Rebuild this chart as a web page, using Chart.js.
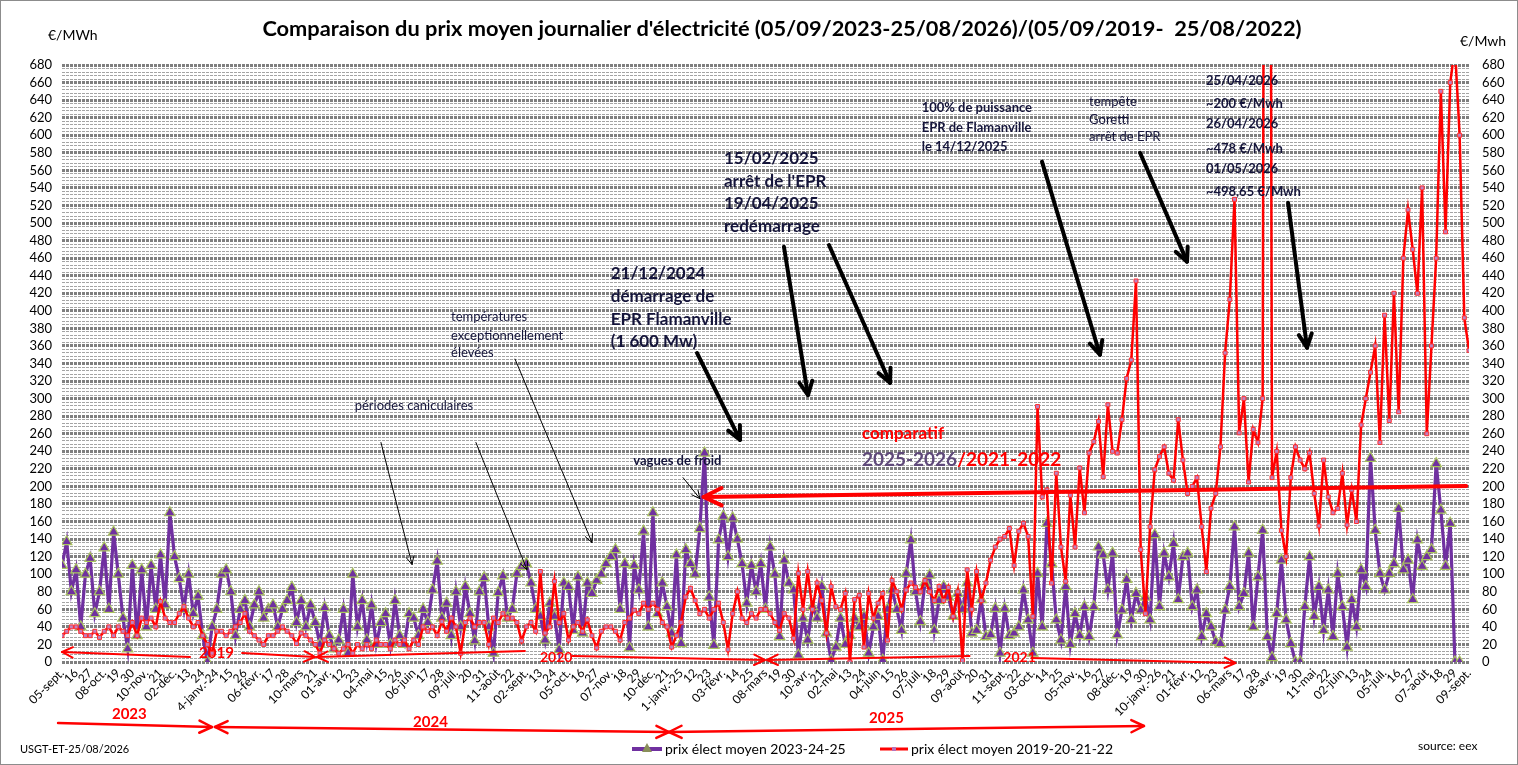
<!DOCTYPE html>
<html lang="fr">
<head>
<meta charset="utf-8">
<title>Comparaison du prix moyen journalier d'électricité</title>
<script src="https://cdn.jsdelivr.net/npm/chart.js@4.4.1/dist/chart.umd.min.js"></script>
<style>
  html, body { margin: 0; padding: 0; background: #fff; }
  #wrap { position: relative; width: 1518px; height: 765px; }
</style>
</head>
<body>
<div id="wrap"><canvas id="chart"></canvas></div>
<script>
// x axis labels, one every 11 days from 05-sept.-2023
const tickLabels = [
  "05-sept.", "16", "27", "08-oct.", "19", "30", "10-nov.", "21", "02-déc.", "13", "24",
  "4-janv.-24", "15", "26", "06-févr.", "17", "28", "10-mars", "21", "01-avr.", "12", "23",
  "04-mai", "15", "26", "06-juin", "17", "28", "09-juil.", "20", "31", "11-août", "22",
  "02-sept.", "13", "24", "05-oct.", "16", "27", "07-nov.", "18", "29", "10-déc.", "21",
  "1-janv.-25", "12", "23", "03-févr.", "14", "25", "08-mars", "19", "30", "10-avr.", "21",
  "02-mai", "13", "24", "04-juin", "15", "26", "07-juil.", "18", "29", "09-août", "20", "31",
  "11-sept.", "22", "03-oct.", "14", "25", "05-nov.", "16", "27", "08-déc.", "19", "30",
  "10-janv.-26", "21", "01-févr.", "12", "23", "06-mars", "17", "28", "08-avr.", "19", "30",
  "11-mai", "22", "02-juin", "13", "24", "05-juil.", "16", "27", "07-août", "18", "29", "09-sept."
];

// values, 3 per label interval (about every 3.7 days)
const prix2023_24_25 = [
  110,137,80, 105,40,100, 118,55,80, 130,60,148, 100,50,15, 110,30,105, 40,110,60, 122,65,170, 120,95,60, 100,55,75,
  30,0,40, 60,100,105, 80,30,60, 70,40,65, 80,50,60, 65,40,60, 70,85,45, 70,40,65, 45,20,62, 30,15,25,
  60,10,100, 40,70,25, 65,20,45, 55,20,70, 30,20,55, 50,30,60, 45,82,115, 50,67,30, 80,40,86, 55,24,80,
  96,40,10, 79,98,50, 60,101,109, 112,90,60, 52,25,67, 52,14,90, 86,36,97, 33,90,78, 93,100,112, 120,128,60,
  112,16,110, 82,149,40, 170,55,90, 63,33,122, 21,128,112, 100,152,238, 74,19,139, 166,120,164, 140,112,67, 110,80,112,
  60,131,100, 29,116,90, 82,8,50, 25,63,50, 86,33,2, 17,50,20, 30,50,40, 52,10,40, 52,2,60, 82,60,36,
  101,139,80, 46,90,99, 36,70,86, 74,52,78, 60,90,33, 36,71,29, 31,61,10, 61,30,33, 40,82,48, 10,101,40,
  158,112,48, 25,86,20, 55,30,63, 29,63,131, 122,82,124, 31,59,94, 48,78,59, 74,48,145, 63,124,97, 135,71,120,
  124,63,82, 29,55,40, 23,21,59, 86,154,63, 78,124,40, 97,150,29, 5,55,116, 48,21,0, 0,63,120, 52,86,36,
  82,29,101, 63,17,71, 40,105,86, 232,150,101, 82,101,112, 175,105,116, 71,139,109, 120,128,226, 173,109,158, 0,0,null
];

const prix2019_20_21_22 = [
  30,35,40, 40,35,30, 30,35,28, 35,40,30, 40,35,30, 45,30,50, 45,50,40, 69,50,45, 45,55,63, 50,40,45,
  30,20,10, 35,35,30, 35,40,45, 55,35,30, 25,20,30, 30,35,40, 35,30,21, 33,30,25, 20,10,25, 20,15,10,
  15,20,10, 20,15,20, 15,25,20, 20,15,25, 20,25,15, 25,20,40, 35,40,30, 46,35,50, 40,10,45, 50,40,45,
  45,20,50, 45,55,50, 50,45,24, 40,45,35, 103,33,40, 92,45,55, 25,40,45, 35,48,30, 16,35,40, 40,35,25,
  45,50,59, 55,67,60, 67,60,45, 40,17,30, 45,74,84, 70,55,60, 50,60,67, 45,14,55, 80,50,45, 55,50,60,
  60,55,45, 36,55,50, 27,101,60, 103,60,90, 70,33,86, 63,60,78, 0,71,76, 17,78,50, 67,78,25, 93,80,60,
  82,90,85, 80,93,80, 70,86,70, 85,52,80, 2,105,60, 103,70,90, 116,131,140, 143,152,110, 149,158,143, 52,291,188,
  196,90,215, 131,92,190, 131,221,170, 238,251,274, 211,293,240, 238,276,323, 344,434,128, 55,154,219, 234,245,215, 207,276,230,
  192,200,210, 154,103,175, 192,245,352, 413,527,261, 300,205,265, 250,300,2500, 210,240,150, 120,210,245, 230,220,238, 192,155,230,
  188,170,175, 215,156,196, 160,270,300, 330,360,250, 395,275,420, 285,460,515, 470,420,540, 260,360,460, 650,490,660, 700,600,392,
  355
];

const FONT = "Lato, 'Open Sans', sans-serif";
const INK = "#14143a";

// each value sits at i/3 of a label interval
function toPoints(values) {
  return values.map((v, i) => ({ x: i / 3, y: v }));
}

function arrow(ctx, x1, y1, x2, y2, color, width, head, both) {
  ctx.save();
  ctx.strokeStyle = color;
  ctx.lineWidth = width;
  ctx.lineCap = "round";
  ctx.lineJoin = "round";
  ctx.beginPath();
  ctx.moveTo(x1, y1);
  ctx.lineTo(x2, y2);
  ctx.stroke();
  const ends = both ? [[x1, y1, x2, y2], [x2, y2, x1, y1]] : [[x1, y1, x2, y2]];
  ends.forEach(([ax, ay, bx, by]) => {
    const a = Math.atan2(by - ay, bx - ax);
    ctx.beginPath();
    ctx.moveTo(bx - head * Math.cos(a - 0.45), by - head * Math.sin(a - 0.45));
    ctx.lineTo(bx, by);
    ctx.lineTo(bx - head * Math.cos(a + 0.45), by - head * Math.sin(a + 0.45));
    ctx.stroke();
  });
  ctx.restore();
}

function text(ctx, str, px, py, font, color, align) {
  ctx.save();
  ctx.font = font;
  ctx.fillStyle = color;
  ctx.textAlign = align || "left";
  ctx.textBaseline = "middle";
  ctx.fillText(str, px, py);
  const w = ctx.measureText(str).width;
  ctx.restore();
  return w;
}

function lines(ctx, rows, k, vs, font, color, X, Y) {
  rows.forEach((r, i) => text(ctx, r, X(k), Y(vs[i]), font, color));
}

const background = {
  id: "background",
  beforeDraw(chart) {
    const ctx = chart.ctx;
    ctx.save();
    ctx.fillStyle = "#fff";
    ctx.fillRect(0, 0, chart.width, chart.height);
    ctx.restore();
  }
};

// texts and arrows placed in data units (label index, €/MWh)
const notes = {
  id: "notes",
  afterDraw(chart) {
    const ctx = chart.ctx;
    const X = k => chart.scales.x.getPixelForValue(k);
    const Y = v => chart.scales.y.getPixelForValue(v);
    const red = "#ff0000";

    // title and units
    text(ctx, "Comparaison du prix moyen journalier d'électricité (05/09/2023-25/08/2026)/(05/09/2019-  25/08/2022)",
      782, 29, "bold 21.8px " + FONT, "#000", "center");
    text(ctx, "€/MWh", 48, 35, "14px " + FONT, "#000");
    text(ctx, "€/Mwh", 1460, 41, "14px " + FONT, "#000");

    // notes
    lines(ctx, ["25/04/2026", "~200 €/Mwh", "26/04/2026", "~478 €/Mwh", "01/05/2026", "~498,65 €/Mwh"],
      81.3, [662, 636, 613, 585, 562, 535], "bold 13px " + FONT, INK, X, Y);
    lines(ctx, ["tempête", "Goretti", "arrêt de EPR"], 73.0, [638, 617, 598], "13px " + FONT, INK, X, Y);
    lines(ctx, ["100% de puissance", "EPR de Flamanville", "le 14/12/2025"], 61.1, [631, 608, 587],
      "bold 13px " + FONT, INK, X, Y);
    lines(ctx, ["15/02/2025", "arrêt de l'EPR", "19/04/2025", "redémarrage"], 47.05, [573, 547, 522, 496],
      "bold 17px " + FONT, INK, X, Y);
    lines(ctx, ["21/12/2024", "démarrage de", "EPR Flamanville", "(1 600 Mw)"], 39.0, [442, 416, 390, 365],
      "bold 17px " + FONT, INK, X, Y);
    lines(ctx, ["températures", "exceptionnellement", "élevées"], 27.65, [393, 372, 352], "13px " + FONT, INK, X, Y);
    text(ctx, "périodes caniculaires", X(20.8), Y(292), "13px " + FONT, INK);
    text(ctx, "vagues de froid", X(40.6), Y(229), "bold 13px " + FONT, INK);
    text(ctx, "comparatif", X(56.85), Y(260), "bold 17px " + FONT, red);
    const w = text(ctx, "2025-2026", X(56.85), Y(230), "bold 19px " + FONT, "#5f497a");
    text(ctx, "/2021-2022", X(56.85) + w, Y(230), "bold 19px " + FONT, red);

    // black arrows
    const big = [
      [45.13, 352, 48.19, 253], [51.31, 473, 53.02, 304], [54.51, 475, 58.85, 318],
      [69.65, 570, 73.77, 350], [76.62, 580, 79.96, 456], [87.14, 523, 88.49, 358]
    ];
    big.forEach(a => arrow(ctx, X(a[0]), Y(a[1]), X(a[2]), Y(a[3]), "#000", 4, 15));
    const thin = [
      [22.67, 250, 24.88, 111], [29.42, 250, 33.05, 105], [32.2, 345, 37.67, 136], [44.14, 210, 45.34, 186]
    ];
    thin.forEach(a => arrow(ctx, X(a[0]), Y(a[1]), X(a[2]), Y(a[3]), "#000", 1, 9));

    // red comparison arrow at 200
    arrow(ctx, X(99.8), Y(200.5), X(45.6), Y(188), red, 4, 20);

    // years of the 2019-2022 series
    arrow(ctx, X(9.1), Y(5.7), X(0), Y(11.4), red, 2, 12);
    text(ctx, "2019", X(9.74), Y(10.3), "bold 15px " + FONT, red);
    arrow(ctx, X(12.8), Y(10.3), X(17.98), Y(5.7), red, 2, 12);
    arrow(ctx, X(32.9), Y(12.5), X(18.12), Y(5.7), red, 2, 12);
    text(ctx, "2020", X(33.97), Y(5.7), "bold 14px " + FONT, red);
    arrow(ctx, X(36.3), Y(6.8), X(49.96), Y(2.3), red, 2, 12);
    arrow(ctx, X(64.5), Y(6.8), X(50.11), Y(2.3), red, 2, 12);
    text(ctx, "2021", X(66.9), Y(5.7), "bold 14px " + FONT, red);
    arrow(ctx, X(68.9), Y(4.6), X(83.4), Y(-1.1), red, 2, 12);

    // years of the 2023-2026 series, under the axis
    text(ctx, "2023", X(3.55), 714, "bold 15px " + FONT, red);
    arrow(ctx, X(-0.28), 723, X(10.66), 727, red, 2.5, 14);
    text(ctx, "2024", X(24.95), 722, "bold 15px " + FONT, red);
    arrow(ctx, X(10.87), 727, X(43.14), 732, red, 2.5, 14, true);
    text(ctx, "2025", X(57.36), 718, "bold 15px " + FONT, red);
    arrow(ctx, X(43.14), 732, X(76.9), 726, red, 2.5, 14, true);

    // legend
    const ly = 749;
    ctx.save();
    ctx.lineWidth = 4;
    ctx.strokeStyle = "#7030a0";
    ctx.beginPath(); ctx.moveTo(632, ly); ctx.lineTo(662, ly); ctx.stroke();
    ctx.fillStyle = "#8a8f5a";
    ctx.beginPath(); ctx.moveTo(647, ly - 6); ctx.lineTo(652, ly + 3); ctx.lineTo(642, ly + 3); ctx.closePath(); ctx.fill();
    ctx.lineWidth = 3;
    ctx.strokeStyle = red;
    ctx.beginPath(); ctx.moveTo(880, ly); ctx.lineTo(908, ly); ctx.stroke();
    ctx.fillStyle = "#b870b8";
    ctx.fillRect(892, ly - 2, 4, 4);
    ctx.restore();
    text(ctx, "prix élect moyen 2023-24-25", 665, ly, "14px " + FONT, "#000");
    text(ctx, "prix élect moyen 2019-20-21-22", 911, ly, "14px " + FONT, "#000");

    text(ctx, "USGT-ET-25/08/2026", 20, 749, "11px " + FONT, "#000");
    text(ctx, "source: eex", 1418, 746, "12px " + FONT, "#000");

    // frame
    ctx.save();
    ctx.strokeStyle = "#8c8c8c";
    ctx.lineWidth = 1;
    ctx.strokeRect(0.5, 0.5, chart.width - 1, chart.height - 1);
    ctx.restore();
  }
};

new Chart(document.getElementById("chart"), {
  type: "line",
  data: {
    datasets: [
      {
        label: "prix élect moyen 2019-20-21-22",
        data: toPoints(prix2019_20_21_22),
        borderColor: "#ff0000",
        borderWidth: 2.5,
        pointStyle: "rect",
        pointRadius: 2.8,
        pointBackgroundColor: "#c080c0",
        pointBorderColor: "#ff3030",
        pointBorderWidth: 1,
        tension: 0,
        order: 0
      },
      {
        label: "prix élect moyen 2023-24-25",
        data: toPoints(prix2023_24_25),
        borderColor: "#7030a0",
        borderWidth: 3.2,
        pointStyle: "triangle",
        pointRadius: 6,
        pointBackgroundColor: "#7030a0",
        pointBorderColor: "#a9c45e",
        pointBorderWidth: 1.2,
        tension: 0,
        order: 1
      }
    ]
  },
  options: {
    responsive: true,
    maintainAspectRatio: false,
    animation: false,
    devicePixelRatio: 1,
    events: [],
    layout: { padding: { top: 65, left: 0, right: 0, bottom: 0 } },
    plugins: {
      legend: { display: false },
      tooltip: { enabled: false },
      title: { display: false }
    },
    scales: {
      x: {
        type: "linear",
        min: 0,
        max: 100,
        offset: false,
        grid: { display: false, drawTicks: false },
        border: { display: false },
        ticks: {
          stepSize: 1,
          autoSkip: false,
          maxRotation: 45,
          minRotation: 45,
          padding: 4,
          color: "#000",
          font: { family: FONT, size: 12 },
          callback: v => tickLabels[v] ?? ""
        },
        afterFit: s => { s.height = 103; }
      },
      y: {
        position: "left",
        min: 0,
        max: 680,
        grid: {
          drawTicks: false,
          color: c => (c.tick.value % 20 === 0 ? "#7f7f7f" : "#a4a4a4"),
          lineWidth: c => (c.tick.value % 20 === 0 ? 3 : 1)
        },
        border: { display: false, dash: [3, 1] },
        ticks: {
          stepSize: 4,
          autoSkip: false,
          padding: 10,
          color: "#000",
          font: { family: FONT, size: 13 },
          callback: v => (v % 20 === 0 ? v : "")
        },
        afterFit: s => { s.width = 62; }
      },
      y2: {
        position: "right",
        min: 0,
        max: 680,
        grid: { display: false, drawTicks: false },
        border: { display: false },
        ticks: {
          stepSize: 20,
          autoSkip: false,
          padding: 13,
          color: "#000",
          font: { family: FONT, size: 13 }
        },
        afterFit: s => { s.width = 49; }
      }
    }
  },
  plugins: [background, notes]
});
</script>
</body>
</html>
